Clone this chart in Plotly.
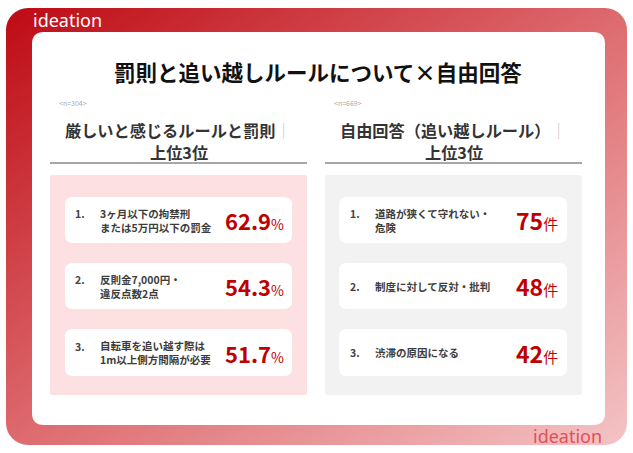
import base64
import plotly.graph_objects as go

# ---------------- data ----------------
title = "罰則と追い越しルールについて×自由回答"
left_n = "&lt;n=304&gt;"
right_n = "&lt;n=669&gt;"
left_header = ["厳しいと感じるルールと罰則", "上位3位"]
right_header = ["自由回答（追い越しルール）", "上位3位"]
ranks = [1, 2, 3]
left_items = ["3ヶ月以下の拘禁刑<br>または5万円以下の罰金",
              "反則金7,000円・<br>違反点数2点",
              "自転車を追い越す際は<br>1m以上側方間隔が必要"]
left_values = [62.9, 54.3, 51.7]
left_unit = "%"
right_items = ["道路が狭くて守れない・<br>危険",
               "制度に対して反対・批判",
               "渋滞の原因になる"]
right_values = [75, 48, 42]
right_unit = "件"
brand = "ideation"

# ---------------- layout helpers ----------------
W, H = 633, 453
FONT = "Noto Sans CJK JP, Noto Sans, sans-serif"
RED = "#c00000"


def rrect(x0, y0, x1, y1, r):
    return (f"M{x0+r},{y0} L{x1-r},{y0} Q{x1},{y0} {x1},{y0+r} "
            f"L{x1},{y1-r} Q{x1},{y1} {x1-r},{y1} L{x0+r},{y1} "
            f"Q{x0},{y1} {x0},{y1-r} L{x0},{y0+r} Q{x0},{y0} {x0+r},{y0} Z")


svg = (f"<svg xmlns='http://www.w3.org/2000/svg' width='{W}' height='{H}' viewBox='0 0 {W} {H}'>"
       "<defs><linearGradient id='g' x1='0' y1='0' x2='1' y2='1'>"
       "<stop offset='0' stop-color='#be0a14'/>"
       "<stop offset='0.5' stop-color='#dd6a6e'/>"
       "<stop offset='1' stop-color='#f4c4c6'/>"
       "</linearGradient></defs>"
       "<rect x='6' y='8' width='621' height='437' rx='22' ry='22' fill='url(#g)'/></svg>")
svg_uri = "data:image/svg+xml;base64," + base64.b64encode(svg.encode()).decode()

fig = go.Figure()
fig.add_trace(go.Scatter(x=[0, W], y=[0, H], mode="markers",
                         marker=dict(opacity=0), hoverinfo="skip", showlegend=False))

shapes = []
annotations = []

# white card
shapes.append(dict(type="path", path=rrect(32, 32, 605, 425, 12),
                   fillcolor="white", line=dict(width=0), layer="below"))

cols = [
    dict(x0=50, x1=307, bg="#fde1e2", n=left_n, header=left_header,
         items=left_items, values=left_values, unit=left_unit, fmt="{:.1f}",
         unit_size=14, val_size=22, num_x=73, text_x=98, val_x=286, card=(65, 292)),
    dict(x0=325, x1=582, bg="#f2f2f2", n=right_n, header=right_header,
         items=right_items, values=right_values, unit=right_unit, fmt="{:d}",
         unit_size=15, val_size=23, num_x=348, text_x=373, val_x=560, card=(339, 567)),
]

card_y = [(197, 243), (263, 309), (329, 376)]

for c in cols:
    cx = (c["x0"] + c["x1"]) / 2
    annotations.append(dict(x=c["x0"] + 7, y=103, text=c["n"], showarrow=False,
                            xanchor="left", yanchor="middle",
                            font=dict(family=FONT, size=7, color="#aaaaaa")))
    annotations.append(dict(x=cx, y=130,
                            text=f"<b>{c['header'][0]}</b><span style='color:#c8c8c8'>｜</span>",
                            showarrow=False, xanchor="center", yanchor="middle", align="center",
                            borderpad=0, borderwidth=0,
                            font=dict(family=FONT, size=16.2, color="#333333")))
    annotations.append(dict(x=cx, y=151.5,
                            text=f"<b>{c['header'][1]}</b>",
                            showarrow=False, xanchor="center", yanchor="middle", align="center",
                            borderpad=0, borderwidth=0,
                            font=dict(family=FONT, size=16.2, color="#333333")))
    shapes.append(dict(type="line", x0=c["x0"], x1=c["x1"], y0=163, y1=163,
                       line=dict(color="#8a8a8a", width=1.5)))
    shapes.append(dict(type="path", path=rrect(c["x0"], 175, c["x1"], 395, 2),
                       fillcolor=c["bg"], line=dict(width=0), layer="below"))
    for i, (rk, item, val) in enumerate(zip(ranks, c["items"], c["values"])):
        y0, y1 = card_y[i]
        ym = (y0 + y1) / 2
        shapes.append(dict(type="path", path=rrect(c["card"][0], y0, c["card"][1], y1, 8),
                           fillcolor="white", line=dict(width=0), layer="below"))
        annotations.append(dict(x=c["num_x"], y=ym - 6.5 if "<br>" in item else ym, text=f"<b>{rk}.</b>",
                                showarrow=False, xanchor="left", yanchor="middle",
                                font=dict(family=FONT, size=10.5, color="#444444")))
        annotations.append(dict(x=c["text_x"], y=ym, text=f"<b>{item}</b>",
                                showarrow=False, xanchor="left", yanchor="middle", align="left",
                                font=dict(family=FONT, size=10.5, color="#3c3c3c")))
        annotations.append(dict(x=c["val_x"], y=ym,
                                text=f"<b>{c['fmt'].format(val)}</b><span style='font-size:{c['unit_size']}px'>{c['unit']}</span>",
                                showarrow=False, xanchor="right", yanchor="middle",
                                font=dict(family=FONT, size=c["val_size"], color=RED)))

annotations.append(dict(x=318, y=71, text=f"<b>{title}</b>", showarrow=False,
                        xanchor="center", yanchor="middle",
                        font=dict(family=FONT, size=21.5, color="#111111")))
annotations.append(dict(x=31, y=20, text=brand, showarrow=False, xanchor="left", yanchor="middle",
                        font=dict(family="Noto Sans, sans-serif", size=18, color="white")))
annotations.append(dict(x=604, y=436, text=brand, showarrow=False, xanchor="right", yanchor="middle",
                        font=dict(family="Noto Sans, sans-serif", size=18, color="#e0505a")))

fig.update_layout(
    width=W, height=H, margin=dict(l=0, r=0, t=0, b=0),
    paper_bgcolor="white", plot_bgcolor="rgba(0,0,0,0)",
    xaxis=dict(range=[0, W], visible=False, fixedrange=True),
    yaxis=dict(range=[H, 0], visible=False, fixedrange=True),
    shapes=shapes, annotations=annotations,
    images=[dict(source=svg_uri, xref="paper", yref="paper", x=0, y=1, sizex=1, sizey=1,
                 xanchor="left", yanchor="top", sizing="stretch", layer="below")],
    showlegend=False,
)

fig.write_html("out.html", config={"displayModeBar": False},
               post_script="document.body.style.margin='0';document.body.style.padding='0';document.body.style.overflow='hidden';")
